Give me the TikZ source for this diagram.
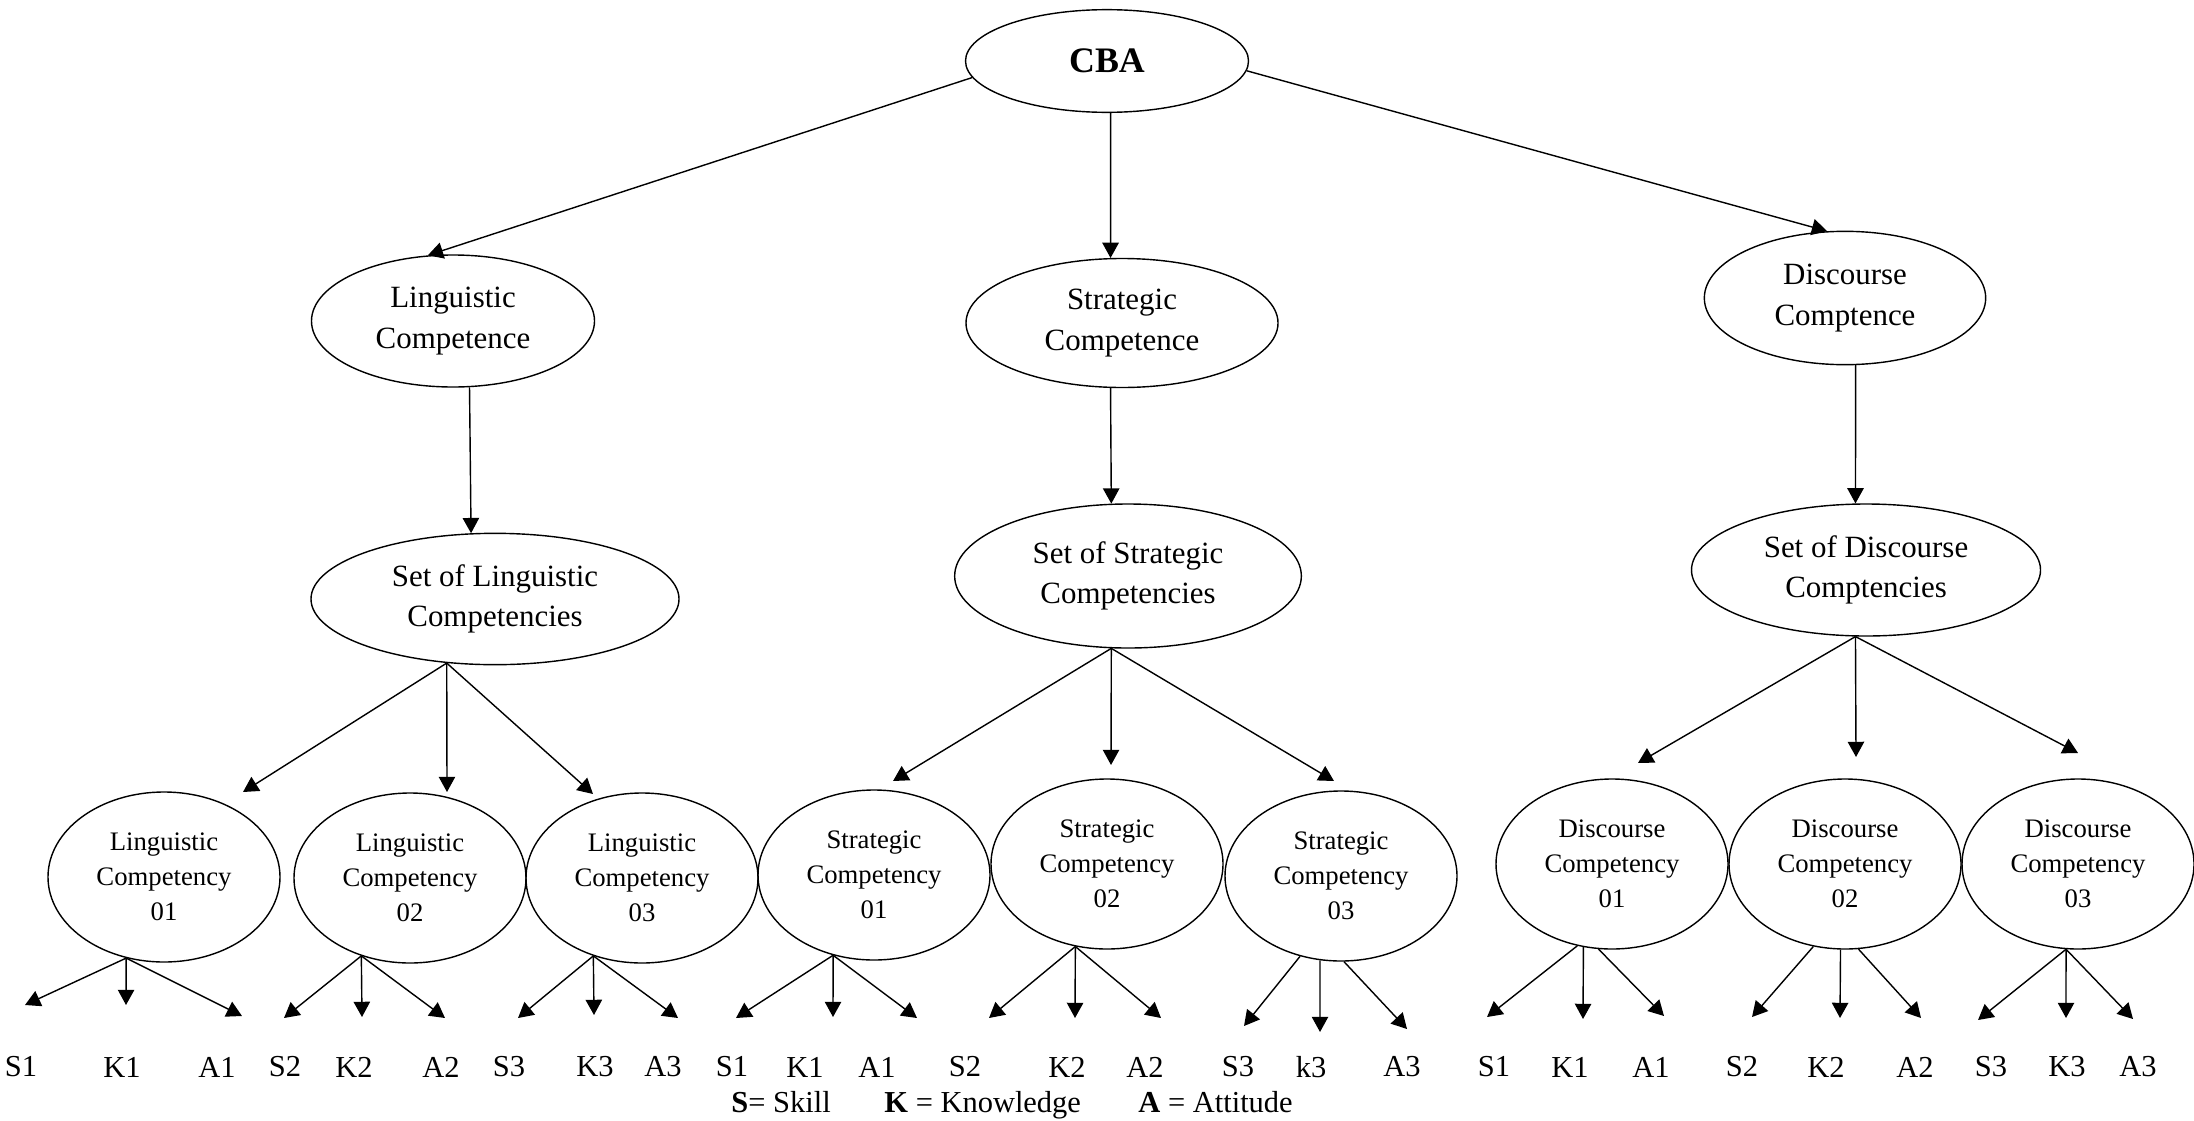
\documentclass[tikz,border=0pt]{standalone}
\usepackage{fontspec}
\setmainfont{Liberation Serif}
\usetikzlibrary{shapes.geometric,arrows.meta}
\tikzstyle{top_ellipse}=[ellipse,
                         draw=black,
                         line width=0.6pt,
                         inner sep=0pt,
                         minimum width=4.245cm,
                         minimum height=1.54cm,
                         font=\fontsize{15.3}{18}\selectfont\bfseries]
\tikzstyle{mid_ellipse}=[ellipse,
                         draw=black,
                         line width=0.6pt,
                         inner sep=0pt,
                         align=center,
                         font=\fontsize{13.2}{17.4}\selectfont]
\tikzstyle{leaf_ellipse}=[ellipse,
                          draw=black,
                          line width=0.6pt,
                          inner sep=0pt,
                          minimum width=3.48cm,
                          minimum height=2.55cm,
                          align=center,
                          font=\fontsize{11.4}{14.9}\selectfont]
\tikzstyle{leaf_label}=[inner sep=0pt, font=\fontsize{13}{15}\selectfont]
\tikzstyle{legend_text}=[inner sep=0pt, anchor=base west, font=\fontsize{13}{15}\selectfont]
\tikzstyle{arrow_line}=[-{Triangle[length=6.5pt,width=7pt]}, line width=0.6pt]

\begin{document}
\begin{tikzpicture}[x=0.015cm, y=-0.015cm]
  \useasboundingbox (0, 0) rectangle (2194, 1120);

  \node at (1107, 61) (CBA) [top_ellipse] {CBA};

  \node at (453, 321) (LING) [mid_ellipse, minimum width=4.245cm, minimum height=1.98cm] {Linguistic\\Competence};
  \node at (1122, 323) (STRAT) [mid_ellipse, minimum width=4.68cm, minimum height=1.935cm] {Strategic\\Competence};
  \node at (1845, 298) (DISC) [mid_ellipse, minimum width=4.22cm, minimum height=2.0cm] {Discourse\\Comptence};

  \node at (495, 599) (LSET) [mid_ellipse, minimum width=5.52cm, minimum height=1.97cm] {Set of Linguistic\\Competencies};
  \node at (1128, 576) (SSET) [mid_ellipse, minimum width=5.2cm, minimum height=2.16cm] {Set of Strategic\\Competencies};
  \node at (1866, 570) (DSET) [mid_ellipse, minimum width=5.235cm, minimum height=1.98cm] {Set of Discourse\\Comptencies};

  \foreach \nm/\x/\y/\kind/\num in {LC1/164/877/Linguistic/01, LC2/410/878/Linguistic/02,
                                    LC3/642/878/Linguistic/03, SC1/874/875/Strategic/01,
                                    SC2/1107/864/Strategic/02, SC3/1341/876/Strategic/03,
                                    DC1/1612/864/Discourse/01, DC2/1845/864/Discourse/02,
                                    DC3/2078/864/Discourse/03} {
    \node at (\x, \y) (\nm) [leaf_ellipse] {\kind\\Competency\\\num};
  }

  \foreach \nm/\x/\txt in {LS1/21/S1, LK1/122/K1, LA1/217/A1, LS2/285/S2, LK2/354/K2, LA2/441/A2,
                           LS3/509/S3, LK3/595/K3, LA3/663/A3,
                           SS1/732/S1, SK1/805/K1, SA1/877/A1, SS2/965/S2, SK2/1067/K2, SA2/1145/A2,
                           SS3/1238/S3, SK3/1311/k3, SA3/1402/A3,
                           DS1/1494/S1, DK1/1570/K1, DA1/1651/A1, DS2/1742/S2, DK2/1826/K2, DA2/1915/A2,
                           DS3/1991/S3, DK3/2067/K3, DA3/2138/A3} {
    \node at (\x, 1067) (\nm) [leaf_label] {\txt};
  }

  \node at (731, 1112) (SKILL) [legend_text] {\textbf{S}= Skill};
  \node at (884, 1112) (KNOW) [legend_text] {\textbf{K} = Knowledge};
  \node at (1138, 1112) (ATT) [legend_text] {\textbf{A} = Attitude};

  \draw[arrow_line] (CBA.187) -- (LING.111);
  \draw[arrow_line] (CBA.274) -- (STRAT.100);
  \draw[arrow_line] (CBA.356) -- (DISC.105);
  \draw[arrow_line] (LING.284) -- (LSET.110);
  \draw[arrow_line] (STRAT.260) -- (SSET.103);
  \draw[arrow_line] (DISC.279) -- (DSET.99);

  % set -> competencies
  \foreach \src/\ang/\tip/\x/\y in {LSET/233/LC1top/243/792, LSET/233/LC2top/447/792, LSET/233/LC3top/593/794,
                                    SSET/257/SC1top/893/781, SSET/257/SC2top/1111/765, SSET/257/SC3top/1334/781,
                                    DSET/261/DC1top/1638/763, DSET/261/DC2top/1856/757, DSET/261/DC3top/2078/753} {
    \coordinate (\tip) at (\x, \y);
    \draw[arrow_line] (\src.\ang) -- (\tip);
  }

  % competencies -> S, K, A
  \foreach \src/\ang/\tip/\x/\y in {LC1/245/LC1s/25/1005, LC1/245/LC1k/126/1005, LC1/245/LC1a/242/1016,
                                    LC2/238/LC2s/284/1018, LC2/238/LC2k/362/1017, LC2/238/LC2a/445/1018,
                                    LC3/238/LC3s/518/1018, LC3/238/LC3k/594/1015, LC3/238/LC3a/678/1018,
                                    SC1/243/SC1s/736/1018, SC1/243/SC1k/833/1017, SC1/243/SC1a/917/1018,
                                    SC2/249/SC2s/989/1018, SC2/249/SC2k/1075/1018, SC2/249/SC2a/1161/1018,
                                    SC3/243/SC3s/1244/1026, SC3/256/SC3k/1320/1032, SC3/272/SC3a/1407/1029,
                                    DC1/247/DC1s/1487/1017, DC1/251/DC1k/1583/1019, DC1/261/DC1a/1664/1016,
                                    DC2/249/DC2s/1752/1017, DC2/267/DC2k/1840/1018, DC2/279/DC2a/1921/1018,
                                    DC3/262/DC3s/1978/1020, DC3/262/DC3k/2066/1018, DC3/262/DC3a/2133/1019} {
    \coordinate (\tip) at (\x, \y);
    \draw[arrow_line] (\src.\ang) -- (\tip);
  }
\end{tikzpicture}
\end{document}
